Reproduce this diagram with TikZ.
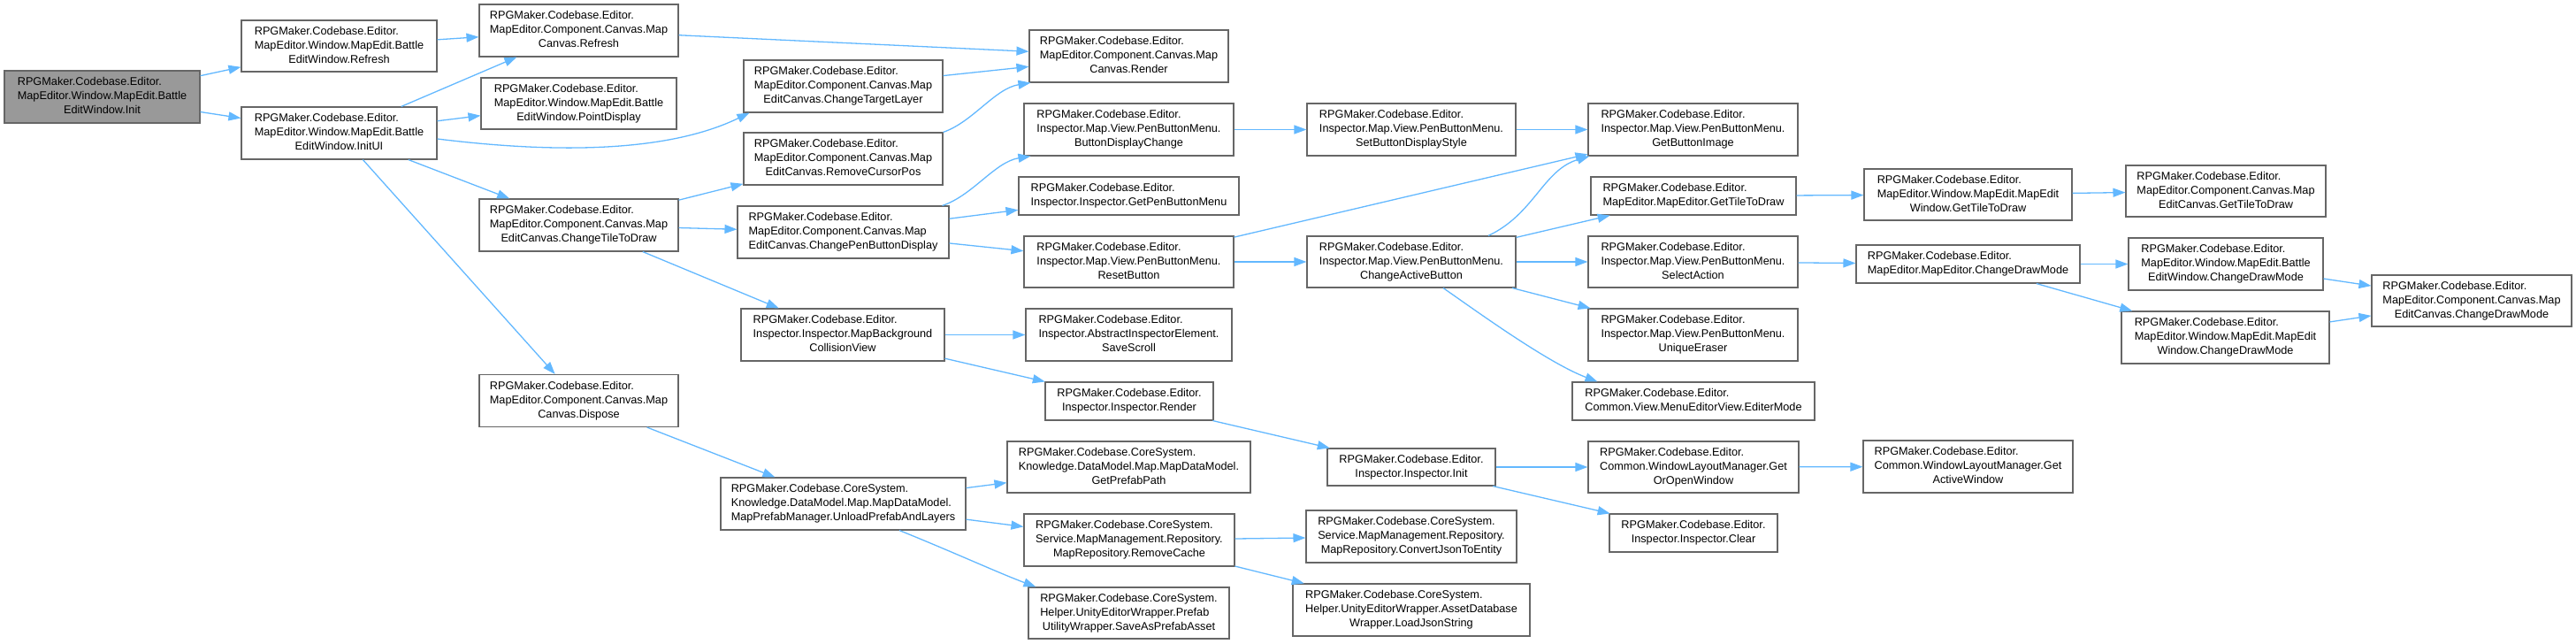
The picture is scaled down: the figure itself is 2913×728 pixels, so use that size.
\documentclass[tikz,border=0pt]{standalone}
\usepackage{fontspec}
\setmainfont{Liberation Sans}
\usetikzlibrary{arrows.meta,calc}
\newcommand\lab[1]{\begin{tabular}{@{}l@{}}#1\end{tabular}}
\newcommand\lc[1]{\multicolumn{1}{@{}c@{}}{#1}}
\definecolor{edgec}{HTML}{63B8FF}
\definecolor{boxc}{HTML}{666666}
\definecolor{rootc}{HTML}{999999}
\tikzset{
  box/.style={draw=boxc, line width=1.1pt, fill=white, inner sep=0pt, rectangle,
    font=\fontsize{12.7}{16}\selectfont},
  rootbox/.style={box, fill=rootc},
  conn/.style={draw=edgec, line width=1.3pt, -{Triangle[length=14pt,width=10pt]}}
}
\begin{document}
\begin{tikzpicture}[x=1pt,y=1pt]
\useasboundingbox (0,0) rectangle (2913,-728);
% column 0
\node[rootbox,minimum width=221pt,minimum height=59pt] (init) at (115.5,-109.5) {\lab{RPGMaker.Codebase.Editor.\\MapEditor.Window.MapEdit.Battle\\\lc{EditWindow.Init}}};
% column 1
\node[box,minimum width=221pt,minimum height=58pt] (refresh) at (383.5,-52) {\lab{RPGMaker.Codebase.Editor.\\MapEditor.Window.MapEdit.Battle\\\lc{EditWindow.Refresh}}};
\node[box,minimum width=221pt,minimum height=59pt] (initui) at (383.5,-150.5) {\lab{RPGMaker.Codebase.Editor.\\MapEditor.Window.MapEdit.Battle\\\lc{EditWindow.InitUI}}};
% column 2
\node[box,minimum width=225pt,minimum height=59pt] (mcrefresh) at (654.5,-34.5) {\lab{RPGMaker.Codebase.Editor.\\MapEditor.Component.Canvas.Map\\\lc{Canvas.Refresh}}};
\node[box,minimum width=221pt,minimum height=58pt] (pointdisp) at (654.5,-117) {\lab{RPGMaker.Codebase.Editor.\\MapEditor.Window.MapEdit.Battle\\\lc{EditWindow.PointDisplay}}};
\node[box,minimum width=225pt,minimum height=59pt] (ctile) at (654.5,-254.5) {\lab{RPGMaker.Codebase.Editor.\\MapEditor.Component.Canvas.Map\\\lc{EditCanvas.ChangeTileToDraw}}};
\node[box,minimum width=225pt,minimum height=59pt] (dispose) at (654.5,-453) {\lab{RPGMaker.Codebase.Editor.\\MapEditor.Component.Canvas.Map\\\lc{Canvas.Dispose}}};
% column 3
\node[box,minimum width=225pt,minimum height=59pt] (ctarget) at (953.5,-97.5) {\lab{RPGMaker.Codebase.Editor.\\MapEditor.Component.Canvas.Map\\\lc{EditCanvas.ChangeTargetLayer}}};
\node[box,minimum width=225pt,minimum height=59pt] (rcursor) at (953.5,-179.5) {\lab{RPGMaker.Codebase.Editor.\\MapEditor.Component.Canvas.Map\\\lc{EditCanvas.RemoveCursorPos}}};
\node[box,minimum width=239pt,minimum height=59pt] (cpen) at (953.5,-262.5) {\lab{RPGMaker.Codebase.Editor.\\MapEditor.Component.Canvas.Map\\\lc{EditCanvas.ChangePenButtonDisplay}}};
\node[box,minimum width=230pt,minimum height=59pt] (mbcv) at (953,-378.5) {\lab{RPGMaker.Codebase.Editor.\\Inspector.Inspector.MapBackground\\\lc{CollisionView}}};
\node[box,minimum width=277pt,minimum height=59pt] (unload) at (953.5,-569.5) {\lab{RPGMaker.Codebase.CoreSystem.\\Knowledge.DataModel.Map.MapDataModel.\\\lc{MapPrefabManager.UnloadPrefabAndLayers}}};
% column 4
\node[box,minimum width=225pt,minimum height=59pt] (render) at (1276.5,-63.5) {\lab{RPGMaker.Codebase.Editor.\\MapEditor.Component.Canvas.Map\\\lc{Canvas.Render}}};
\node[box,minimum width=237pt,minimum height=59pt] (bdc) at (1276.5,-146.5) {\lab{RPGMaker.Codebase.Editor.\\Inspector.Map.View.PenButtonMenu.\\\lc{ButtonDisplayChange}}};
\node[box,minimum width=249pt,minimum height=43pt] (gpbm) at (1276.5,-221.5) {\lab{RPGMaker.Codebase.Editor.\\\lc{Inspector.Inspector.GetPenButtonMenu}}};
\node[box,minimum width=237pt,minimum height=58pt] (reset) at (1276.5,-296) {\lab{RPGMaker.Codebase.Editor.\\Inspector.Map.View.PenButtonMenu.\\\lc{ResetButton}}};
\node[box,minimum width=233pt,minimum height=59pt] (savescroll) at (1276.5,-378.5) {\lab{RPGMaker.Codebase.Editor.\\Inspector.AbstractInspectorElement.\\\lc{SaveScroll}}};
\node[box,minimum width=190pt,minimum height=43pt] (irender) at (1277,-453.5) {\lab{RPGMaker.Codebase.Editor.\\\lc{Inspector.Inspector.Render}}};
\node[box,minimum width=275pt,minimum height=58pt] (gpp) at (1276.5,-528) {\lab{RPGMaker.Codebase.CoreSystem.\\Knowledge.DataModel.Map.MapDataModel.\\\lc{GetPrefabPath}}};
\node[box,minimum width=238pt,minimum height=59pt] (rcache) at (1277,-610.5) {\lab{RPGMaker.Codebase.CoreSystem.\\Service.MapManagement.Repository.\\\lc{MapRepository.RemoveCache}}};
\node[box,minimum width=227pt,minimum height=58pt] (saveprefab) at (1276.5,-693) {\lab{RPGMaker.Codebase.CoreSystem.\\Helper.UnityEditorWrapper.Prefab\\\lc{UtilityWrapper.SaveAsPrefabAsset}}};
% column 5
\node[box,minimum width=236pt,minimum height=59pt] (sbds) at (1596,-146.5) {\lab{RPGMaker.Codebase.Editor.\\Inspector.Map.View.PenButtonMenu.\\\lc{SetButtonDisplayStyle}}};
\node[box,minimum width=236pt,minimum height=58pt] (cab) at (1596,-296) {\lab{RPGMaker.Codebase.Editor.\\Inspector.Map.View.PenButtonMenu.\\\lc{ChangeActiveButton}}};
\node[box,minimum width=190pt,minimum height=42pt] (iinit) at (1596,-528) {\lab{RPGMaker.Codebase.Editor.\\\lc{Inspector.Inspector.Init}}};
\node[box,minimum width=238pt,minimum height=59pt] (cjson) at (1596,-606.5) {\lab{RPGMaker.Codebase.CoreSystem.\\Service.MapManagement.Repository.\\\lc{MapRepository.ConvertJsonToEntity}}};
\node[box,minimum width=268pt,minimum height=59pt] (ljson) at (1596,-689.5) {\lab{RPGMaker.Codebase.CoreSystem.\\Helper.UnityEditorWrapper.AssetDatabase\\\lc{Wrapper.LoadJsonString}}};
% column 6
\node[box,minimum width=237pt,minimum height=59pt] (gbi) at (1914.5,-146.5) {\lab{RPGMaker.Codebase.Editor.\\Inspector.Map.View.PenButtonMenu.\\\lc{GetButtonImage}}};
\node[box,minimum width=232pt,minimum height=43pt] (megtd) at (1915,-221.5) {\lab{RPGMaker.Codebase.Editor.\\\lc{MapEditor.MapEditor.GetTileToDraw}}};
\node[box,minimum width=237pt,minimum height=58pt] (selact) at (1914.5,-296) {\lab{RPGMaker.Codebase.Editor.\\Inspector.Map.View.PenButtonMenu.\\\lc{SelectAction}}};
\node[box,minimum width=237pt,minimum height=59pt] (ueraser) at (1914.5,-378.5) {\lab{RPGMaker.Codebase.Editor.\\Inspector.Map.View.PenButtonMenu.\\\lc{UniqueEraser}}};
\node[box,minimum width=274pt,minimum height=43pt] (editer) at (1915,-453.5) {\lab{RPGMaker.Codebase.Editor.\\\lc{Common.View.MenuEditorView.EditerMode}}};
\node[box,minimum width=238pt,minimum height=58pt] (goow) at (1915,-528) {\lab{RPGMaker.Codebase.Editor.\\Common.WindowLayoutManager.Get\\\lc{OrOpenWindow}}};
\node[box,minimum width=190pt,minimum height=43pt] (iclear) at (1915,-602.5) {\lab{RPGMaker.Codebase.Editor.\\\lc{Inspector.Inspector.Clear}}};
% column 7
\node[box,minimum width=235pt,minimum height=58pt] (mewgtd) at (2225.5,-220) {\lab{RPGMaker.Codebase.Editor.\\MapEditor.Window.MapEdit.MapEdit\\\lc{Window.GetTileToDraw}}};
\node[box,minimum width=253pt,minimum height=43pt] (medm) at (2225.5,-298.5) {\lab{RPGMaker.Codebase.Editor.\\\lc{MapEditor.MapEditor.ChangeDrawMode}}};
\node[box,minimum width=237pt,minimum height=59pt] (gaw) at (2225.5,-527.5) {\lab{RPGMaker.Codebase.Editor.\\Common.WindowLayoutManager.Get\\\lc{ActiveWindow}}};
% column 8
\node[box,minimum width=226pt,minimum height=58pt] (mecgtd) at (2517,-216) {\lab{RPGMaker.Codebase.Editor.\\MapEditor.Component.Canvas.Map\\\lc{EditCanvas.GetTileToDraw}}};
\node[box,minimum width=220pt,minimum height=59pt] (bewdm) at (2517,-298.5) {\lab{RPGMaker.Codebase.Editor.\\MapEditor.Window.MapEdit.Battle\\\lc{EditWindow.ChangeDrawMode}}};
\node[box,minimum width=235pt,minimum height=59pt] (mewdm) at (2516.5,-381.5) {\lab{RPGMaker.Codebase.Editor.\\MapEditor.Window.MapEdit.MapEdit\\\lc{Window.ChangeDrawMode}}};
% column 9
\node[box,minimum width=226pt,minimum height=58pt] (mecdm) at (2795,-340) {\lab{RPGMaker.Codebase.Editor.\\MapEditor.Component.Canvas.Map\\\lc{EditCanvas.ChangeDrawMode}}};

% edges
\draw[conn] (init) -- (refresh);
\draw[conn] (init) -- (initui);
\draw[conn] (refresh) -- (mcrefresh);
\draw[conn] (mcrefresh) -- (render);
\draw[conn] (initui) -- (mcrefresh);
\draw[conn] (initui) -- (pointdisp);
\draw[conn] ($(initui.east)+(0,-6.5)$) .. controls (640,-175) and (760,-170) .. ($(ctarget.south west)+(7,0)$);
\draw[conn] (initui) -- (ctile);
\draw[conn] (initui) -- (dispose);
\draw[conn] (ctarget) -- (render);
\draw[conn] (rcursor.north east) .. controls (1100,-138) and (1125,-100) .. ($(render.south west)+(2,0)$);
\draw[conn] (ctile) -- (rcursor);
\draw[conn] (ctile) -- (cpen);
\draw[conn] (ctile) -- (mbcv);
\draw[conn] ($(cpen.north east)+(-8,0)$) .. controls (1100,-221) and (1125,-183) .. ($(bdc.south west)+(8,0)$);
\draw[conn] (cpen) -- (gpbm);
\draw[conn] (cpen) -- (reset);
\draw[conn] (bdc) -- (sbds);
\draw[conn] (sbds) -- (gbi);
\draw[conn] (reset) -- (gbi);
\draw[conn] (reset) -- (cab);
\draw[conn] ($(cab.north)+(87,0)$) .. controls (1735,-242) and (1745,-192) .. ($(gbi.south west)+(2,0)$);
\draw[conn] (cab) -- (megtd);
\draw[conn] (cab) -- (selact);
\draw[conn] (cab) -- (ueraser);
\draw[conn] ($(cab.south)+(36,0)$) .. controls (1670,-352) and (1750,-410) .. ($(editer.north west)+(29,0)$);
\draw[conn] (megtd) -- (mewgtd);
\draw[conn] (mewgtd) -- (mecgtd);
\draw[conn] (selact) -- (medm);
\draw[conn] (medm) -- (bewdm);
\draw[conn] (medm) -- (mewdm);
\draw[conn] (bewdm) -- (mecdm);
\draw[conn] (mewdm) -- (mecdm);
\draw[conn] (mbcv) -- (savescroll);
\draw[conn] (mbcv) -- (irender);
\draw[conn] (irender) -- (iinit);
\draw[conn] (iinit) -- (goow);
\draw[conn] (iinit) -- (iclear);
\draw[conn] (goow) -- (gaw);
\draw[conn] (dispose) -- (unload);
\draw[conn] (unload) -- (gpp);
\draw[conn] (unload) -- (rcache);
\draw[conn] ($(unload.south)+(63.5,0)$) .. controls (1080,-625) and (1130,-648) .. ($(saveprefab.north west)+(9,0)$);
\draw[conn] (rcache) -- (cjson);
\draw[conn] (rcache) -- (ljson);
\end{tikzpicture}
\end{document}
